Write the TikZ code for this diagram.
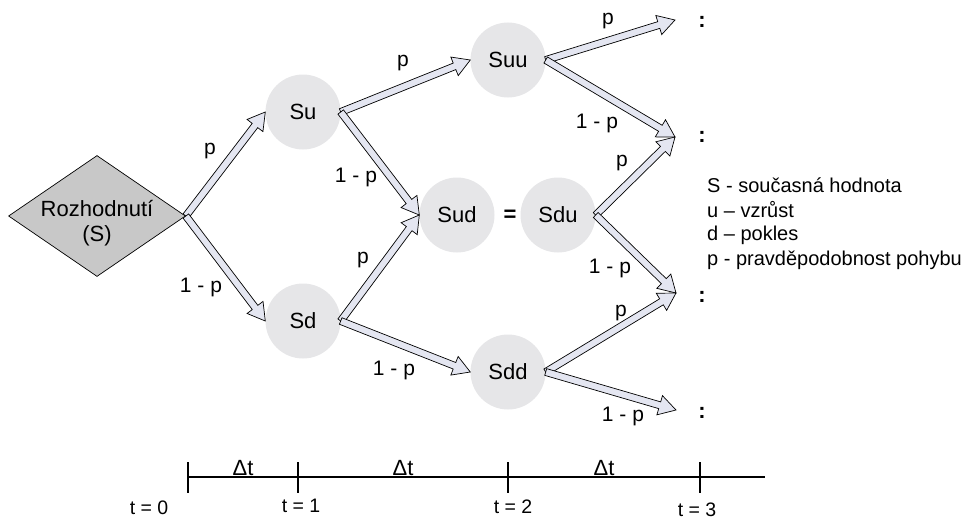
\documentclass[tikz,border=0pt]{standalone}
\usepackage{fontspec}
\setmainfont{Liberation Sans}
\usetikzlibrary{calc,shapes.geometric}
\definecolor{circfill}{HTML}{E6E6E8}
\definecolor{arrfill}{HTML}{E4E6F1}
\definecolor{diafill}{HTML}{C8C8C8}
\newcommand\blockarrow[2]{%
  \path (#1) coordinate (baA) (#2) coordinate (baB);
  \path ($(baB)!17pt!(baA)$) coordinate (baC);
  \filldraw[barrow] ($(baA)!3.5pt!90:(baB)$) -- ($(baC)!3.5pt!-90:(baA)$) -- ($(baC)!10pt!-90:(baA)$) -- (baB) -- ($(baC)!10pt!90:(baA)$) -- ($(baC)!3.5pt!90:(baA)$) -- ($(baA)!3.5pt!-90:(baB)$) -- cycle;}
\begin{document}
\begin{tikzpicture}[x=1pt,y=-1pt,
  state/.style={circle, fill=circfill, minimum size=75pt, inner sep=0pt, font=\fontsize{22}{26}\selectfont},
  barrow/.style={fill=arrfill, draw=black, line width=0.7pt, line join=miter},
  lbl/.style={font=\fontsize{21}{25}\selectfont, inner sep=0pt},
  colon/.style={font=\fontsize{22}{26}\selectfont\bfseries, inner sep=0pt},
  leg/.style={font=\fontsize{20}{24}\selectfont, inner sep=0pt, anchor=base west},
  tlbl/.style={font=\fontsize{19.5}{23}\selectfont, inner sep=0pt, anchor=base}]
\useasboundingbox (0,0) rectangle (968,519);
% decision diamond
\node[diamond, draw=black, fill=diafill, line width=0.7pt, minimum width=177pt, minimum height=121pt, inner sep=0pt] (D) at (97,216) {};
\node[align=center, font=\fontsize{22}{25}\selectfont, inner sep=0pt] (DT) at (97,223) {Rozhodnutí\\(S)};
% states
\node[state] (Su)  at (303,112) {Su};
\node[state] (Sd)  at (303,321) {Sd};
\node[state] (Suu) at (508,60)  {Suu};
\node[state] (Sud) at (457,215) {Sud};
\node[state] (Sdu) at (558,215) {Sdu};
\node[state] (Sdd) at (508,372) {Sdd};
\node[colon] (eq) at (510,216) {=};
% continuation marks
\node[colon] (c1) at (702,22) {:};
\node[colon] (c2) at (702,137) {:};
\node[colon] (c3) at (702,297) {:};
\node[colon] (c4) at (702,413) {:};
\coordinate (e1) at (675,20);
\coordinate (e2) at (675,137);
\coordinate (e3) at (676,293);
\coordinate (e4) at (676,410);
% arrows
\blockarrow{D.east}{Su.west}
\blockarrow{D.east}{Sd.west}
\blockarrow{Su.east}{Suu.west}
\blockarrow{Su.east}{Sud.west}
\blockarrow{Sd.east}{Sud.west}
\blockarrow{Sd.east}{Sdd.west}
\blockarrow{Suu.east}{e1}
\blockarrow{Suu.east}{e2}
\blockarrow{Sdu.east}{e2}
\blockarrow{Sdu.east}{e3}
\blockarrow{Sdd.east}{e3}
\blockarrow{Sdd.east}{e4}
% labels
\node[lbl] (l1) at (210,151) {p};
\node[lbl] (l2) at (201,287) {1 - p};
\node[lbl] (l3) at (403,63) {p};
\node[lbl] (l4) at (356,177) {1 - p};
\node[lbl] (l5) at (363,260) {p};
\node[lbl] (l6) at (394,370) {1 - p};
\node[lbl] (l7) at (608,21) {p};
\node[lbl] (l8) at (597,123) {1 - p};
\node[lbl] (l9) at (622,163) {p};
\node[lbl] (l10) at (610,268) {1 - p};
\node[lbl] (l11) at (621,313) {p};
\node[lbl] (l12) at (623,416) {1 - p};
% legend
\node[leg] (leg1) at (707,192) {S - současná hodnota};
\node[leg] (leg2) at (707,217) {u – vzrůst};
\node[leg] (leg3) at (707,240) {d – pokles};
\node[leg] (leg4) at (707,265) {p - pravděpodobnost pohybu};
% timeline
\coordinate (T0) at (188,477);
\coordinate (T1) at (298,477);
\coordinate (T2) at (508,477);
\coordinate (T3) at (700,477);
\coordinate (Tend) at (765,477);
\draw[line width=1.4pt] (T0) -- (Tend);
\foreach \t in {T0,T1,T2,T3} \draw[line width=1.4pt] ($(\t)+(0,-15)$) -- ($(\t)+(0,16)$);
\node[tlbl, font=\fontsize{22}{26}\selectfont] (d1) at (243,475) {Δt};
\node[tlbl, font=\fontsize{22}{26}\selectfont] (d2) at (403,475) {Δt};
\node[tlbl, font=\fontsize{22}{26}\selectfont] (d3) at (604,475) {Δt};
\node[tlbl] (t0) at (149,514) {t = 0};
\node[tlbl] (t1) at (301,512) {t = 1};
\node[tlbl] (t2) at (513,513) {t = 2};
\node[tlbl] (t3) at (697,516) {t = 3};
\end{tikzpicture}
\end{document}
